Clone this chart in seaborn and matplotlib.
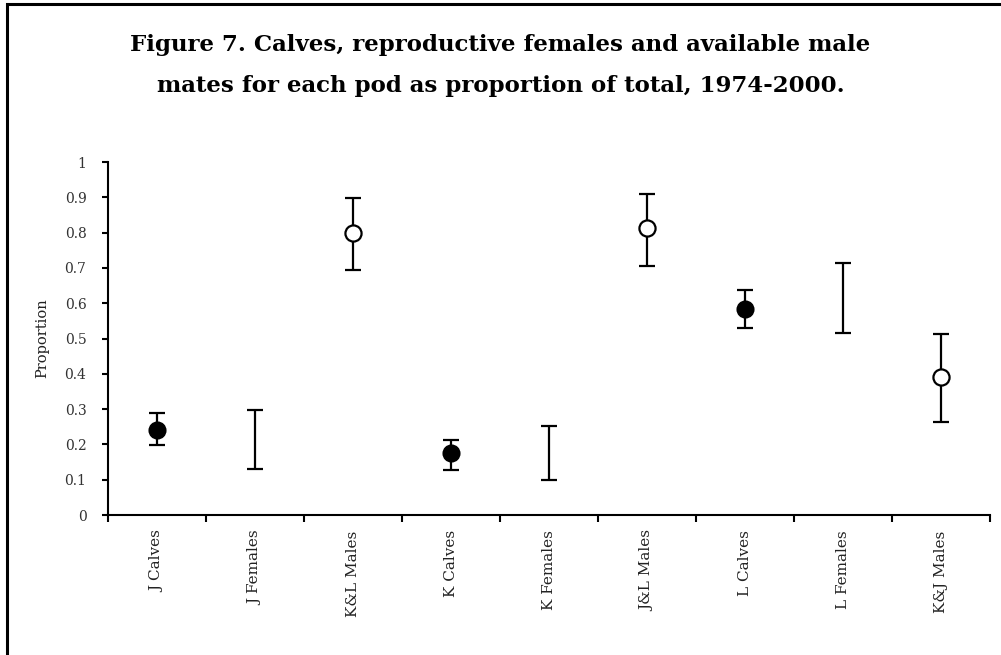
import matplotlib
matplotlib.use('Agg')
import matplotlib.pyplot as plt
from matplotlib.patches import Rectangle
import numpy as np
import pandas as pd
import seaborn as sns

labels = ['J Calves', 'J Females', 'K&L Males', 'K Calves', 'K Females',
          'J&L Males', 'L Calves', 'L Females', 'K&J Males']
kinds = ['Calves', 'Females', 'Males', 'Calves', 'Females',
         'Males', 'Calves', 'Females', 'Males']
proportion = [0.241, 0.214, 0.799, 0.176, 0.176, 0.813, 0.584, 0.615, 0.391]
lower = [0.198, 0.130, 0.694, 0.127, 0.099, 0.705, 0.530, 0.516, 0.263]
upper = [0.289, 0.297, 0.898, 0.212, 0.252, 0.909, 0.637, 0.714, 0.513]
yticks = [0, 0.1, 0.2, 0.3, 0.4, 0.5, 0.6, 0.7, 0.8, 0.9, 1]
ytick_labels = ['0', '0.1', '0.2', '0.3', '0.4', '0.5', '0.6', '0.7', '0.8', '0.9', '1']

df = pd.DataFrame({'label': labels, 'kind': kinds, 'proportion': proportion,
                   'lower': lower, 'upper': upper})

sns.set_style('white')
plt.rcParams['font.family'] = ['DejaVu Serif']
plt.rcParams['text.color'] = 'black'

fig = plt.figure(figsize=(10.01, 6.55), dpi=100)
ax = fig.add_axes([0.1079, 0.2137, 0.881, 0.5389])

# error bars first so the category order is fixed, markers go on top
yerr = [df['proportion'] - df['lower'], df['upper'] - df['proportion']]
ax.errorbar(df['label'], df['proportion'], yerr=yerr, fmt='none',
            ecolor='black', elinewidth=1.6, capsize=5.8, capthick=1.6, zorder=2)

calves = df[df['kind'] == 'Calves']
males = df[df['kind'] == 'Males']
sns.scatterplot(data=calves, x='label', y='proportion', ax=ax, s=140,
                color='black', edgecolor='black', linewidth=1.2, zorder=3)
sns.scatterplot(data=males, x='label', y='proportion', ax=ax, s=135,
                facecolor='white', edgecolor='black', linewidth=1.6, zorder=3)

ax.set_xlim(-0.5, len(labels) - 0.5)
ax.set_ylim(0, 1)
ax.set_xticks(np.arange(-0.5, len(labels)), [])
ax.set_xticks(np.arange(len(labels)), labels, minor=True, rotation=90,
              fontsize=11)
ax.set_yticks(yticks, ytick_labels, fontsize=10)
ax.tick_params(axis='x', which='major', direction='out', length=5, width=1.5,
               color='black', bottom=True)
ax.tick_params(axis='x', which='minor', length=0, pad=11, colors='#222222')
ax.tick_params(axis='y', direction='out', length=4.5, width=1.5, pad=11,
               color='black', left=True, labelcolor='#333333')

ax.set_xlabel('')
ax.set_ylabel('Proportion', fontsize=10.5, color='#222222')
ax.yaxis.set_label_coords(-0.067, 0.5)

sns.despine(ax=ax)
for side in ['left', 'bottom']:
    ax.spines[side].set_linewidth(1.5)
    ax.spines[side].set_color('black')

fig.text(0.5, 0.922, 'Figure 7. Calves, reproductive females and available male',
         ha='center', va='baseline', fontsize=16.5, fontweight='bold')
fig.text(0.5, 0.8595, 'mates for each pod as proportion of total, 1974-2000.',
         ha='center', va='baseline', fontsize=16.5, fontweight='bold')

# page frame around the figure
fig.patches.append(Rectangle((7 / 1001, -0.1), 1.2, 1.1 - 4 / 655,
                             transform=fig.transFigure, fill=False,
                             edgecolor='black', linewidth=2.2))

fig.savefig('out.png', dpi=100)
